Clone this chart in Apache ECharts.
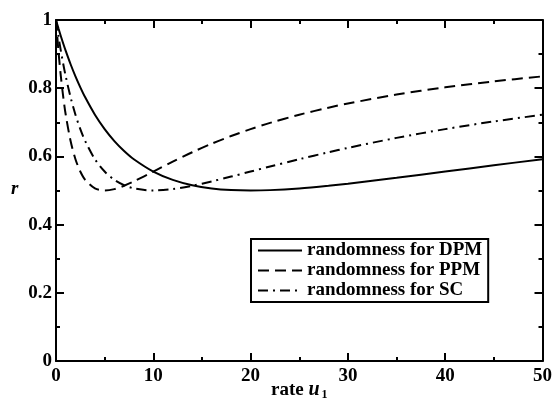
<!DOCTYPE html>
<html><head><meta charset="utf-8">
<script src="https://cdn.jsdelivr.net/npm/echarts@6/dist/echarts.min.js"></script>
<style>html,body{margin:0;padding:0;background:#fff}#c{width:555px;height:407px}</style>
</head><body><div id="c"></div>
<script>
var rate = [0, 0.25, 0.5, 0.75, 1, 1.5, 2, 2.5, 3, 4, 5, 6, 7, 8, 10, 12, 14, 16, 18, 20, 22, 25, 28, 30, 35, 40, 45, 50];
var dpm = [1, 0.9756, 0.9524, 0.9303, 0.9093, 0.8702, 0.8347, 0.8025, 0.7732, 0.7222, 0.68, 0.645, 0.6159, 0.5918, 0.5556, 0.5313, 0.5156, 0.5062, 0.5014, 0.5, 0.5011, 0.5062, 0.5139, 0.52, 0.5372, 0.5556, 0.574, 0.5918];
var ppm = [1, 0.9093, 0.8347, 0.7732, 0.7222, 0.645, 0.5918, 0.5556, 0.5313, 0.5062, 0.5, 0.5041, 0.5139, 0.5266, 0.5556, 0.5848, 0.6122, 0.6372, 0.6597, 0.68, 0.6982, 0.7222, 0.7429, 0.7551, 0.7813, 0.8025, 0.82, 0.8347];
var sc = [1, 0.9524, 0.9093, 0.8702, 0.8347, 0.7732, 0.7222, 0.68, 0.645, 0.5918, 0.5556, 0.5313, 0.5156, 0.5062, 0.5, 0.5041, 0.5139, 0.5266, 0.5408, 0.5556, 0.5703, 0.5918, 0.6122, 0.625, 0.6543, 0.68, 0.7025, 0.7222];
var names = ['randomness for DPM', 'randomness for PPM', 'randomness for SC'];

function pairs(v){ return rate.map(function(x,i){ return [x, v[i]]; }); }
var F = 'Liberation Serif';
var chart = echarts.init(document.getElementById('c'));
var axLine = {show:true, onZero:false, lineStyle:{color:'#000', width:2}};
function xA(pos, showLabel){
  return {type:'value', position:pos, min:0, max:50, interval:10,
    axisLine:axLine, splitLine:{show:false},
    axisTick:{show:true, inside:true, length:8, lineStyle:{color:'#000', width:2}},
    minorTick:{show:true, splitNumber:2, length:4, lineStyle:{color:'#000', width:2}},
    axisLabel:{show:showLabel, color:'#000', fontFamily:F, fontWeight:'bold', fontSize:19, margin:6}};
}
function yA(pos, showLabel){
  return {type:'value', position:pos, min:0, max:1, interval:0.2,
    axisLine:axLine, splitLine:{show:false},
    axisTick:{show:true, inside:true, length:8, lineStyle:{color:'#000', width:2}},
    minorTick:{show:true, splitNumber:2, length:4, lineStyle:{color:'#000', width:2}},
    axisLabel:{show:showLabel, color:'#000', fontFamily:F, fontWeight:'bold', fontSize:19, margin:4}};
}
var types = ['solid', [11,6], [10,5,2,5]];
var datas = [dpm, ppm, sc];
var series = datas.map(function(d,i){
  return {name:names[i], type:'line', data:pairs(d), xAxisIndex:0, yAxisIndex:0,
    showSymbol:false, symbol:'none', smooth:0.3, animation:false,
    lineStyle:{color:'#000', width:2, type:types[i]}, itemStyle:{color:'#000'}};
});
chart.setOption({
  animation:false,
  grid:{left:56, right:9, top:20, bottom:46},
  xAxis:[xA('bottom', true), xA('top', false)],
  yAxis:[yA('left', true), yA('right', false)],
  legend:{show:true, orient:'vertical', left:251, top:239, itemWidth:44, itemHeight:10, itemGap:1,
    padding:[2,6,2,6], borderColor:'#000', borderWidth:2,
    itemStyle:{color:'transparent', borderWidth:0, opacity:0},
    textStyle:{color:'#000', fontFamily:F, fontWeight:'bold', fontSize:19, lineHeight:19},
    data:names},
  graphic:[
    {type:'text', left:11, top:180, style:{text:'r', font:'italic bold 19px "Liberation Serif"', fill:'#000'}},
    {type:'text', left:271, top:380, style:{text:'{a|rate }{b|u}{c|1}', rich:{
      a:{fontFamily:F, fontWeight:'bold', fontSize:19, fill:'#000'},
      b:{fontFamily:F, fontWeight:'bold', fontStyle:'italic', fontSize:20, fill:'#000'},
      c:{fontFamily:F, fontWeight:'bold', fontSize:12, fill:'#000', padding:[10,0,0,2]}}}}
  ],
  series:series
});
</script></body></html>
